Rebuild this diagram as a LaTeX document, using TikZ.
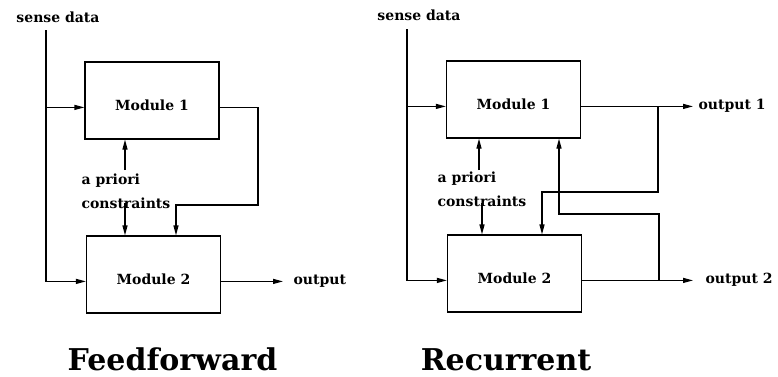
\documentclass[tikz,border=0pt]{standalone}
\usepackage{fontspec}
\setmainfont{DejaVu Serif}
\usepackage{tikz}
\usetikzlibrary{arrows.meta}

\begin{document}
\begin{tikzpicture}[x=1pt, y=-1pt, line width=1.2pt, >={Triangle[length=10pt,width=5pt]},
       module/.style={draw, inner sep=0pt, minimum width=134pt, text height=48pt, text depth=29pt, font=\fontsize{14}{23}\selectfont\bfseries},
       lbl/.style={font=\fontsize{14}{23}\selectfont\bfseries},
       title/.style={font=\fontsize{30}{38}\selectfont\bfseries}]
       \useasboundingbox (0,0) rectangle (778,376);

       \node[module, anchor=base] (modA1) at (152,   110) {Module 1};
       \node[module, anchor=base] (modA2) at (153.5, 284) {Module 2};
       \node[lbl, anchor=base] (senseA) at (58, 22) {sense data};
       \node[lbl, anchor=north west, align=left, inner sep=0pt] (aprA) at (81, 173) {a priori\\[1pt]constraints};
       \node[lbl, anchor=base west, inner xsep=10pt] (outA) at (283, 284) {output};
       \node[title, anchor=base] (titleA) at (172.5, 370) {Feedforward};

       \coordinate (sA)  at ( 46,  30);
       \coordinate (fA)  at (258, 205);
       \coordinate (gA)  at (176, 205);
       \coordinate (cA1) at (125, 170);
       \coordinate (cA2) at (125, 203);

       \draw[->] (sA) |- (modA2.mid west);
       \draw[->] (sA |- modA1.mid west) -- (modA1.mid west);
       \draw[->] (modA1.mid east) -| (fA) -- (gA) -- (gA |- modA2.north);
       \draw[->] (cA1) -- (cA1 |- modA1.south);
       \draw[->] (cA2) -- (cA2 |- modA2.north);
       \draw[->] (modA2.mid east) -- (outA.mid west);

       \node[module, anchor=base] (modB1) at (513.5, 109) {Module 1};
       \node[module, anchor=base] (modB2) at (514.5, 283) {Module 2};
       \node[lbl, anchor=base] (senseB) at (419, 20) {sense data};
       \node[lbl, anchor=north west, align=left, inner sep=0pt] (aprB) at (437, 171) {a priori\\[1pt]constraints};
       \node[lbl, anchor=base west, inner xsep=5pt]  (outB1) at (693, 109) {output 1};
       \node[lbl, anchor=base west, inner xsep=12pt] (outB2) at (693, 283) {output 2};
       \node[title, anchor=base] (titleB) at (506, 370) {Recurrent};

       \coordinate (sB)  at (407,  29);
       \coordinate (jB)  at (658, 192);
       \coordinate (kB)  at (542, 192);
       \coordinate (jC)  at (659, 214);
       \coordinate (kC)  at (559, 214);
       \coordinate (cB1) at (479, 170);
       \coordinate (cB2) at (482, 203);

       \draw[->] (sB) |- (modB2.mid west);
       \draw[->] (sB |- modB1.mid west) -- (modB1.mid west);
       \draw[->] (modB1.mid east) -- (outB1.mid west);
       \draw[->] (modB2.mid east) -- (outB2.mid west);
       \draw[->] (jB |- modB1.mid east) -- (jB) -- (kB) -- (kB |- modB2.north);
       \draw[->] (jC |- modB2.mid east) -- (jC) -- (kC) -- (kC |- modB1.south);
       \draw[->] (cB1) -- (cB1 |- modB1.south);
       \draw[->] (cB2) -- (cB2 |- modB2.north);
    \end{tikzpicture}
\end{document}
